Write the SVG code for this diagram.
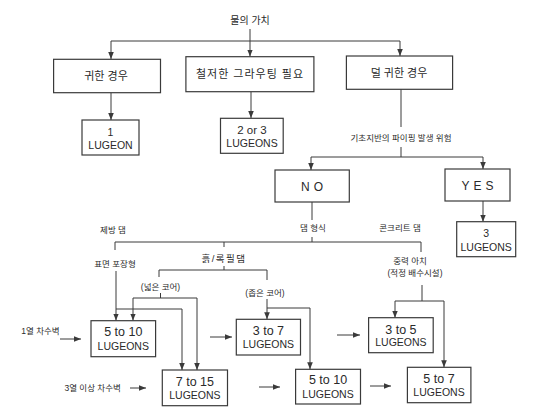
<svg xmlns="http://www.w3.org/2000/svg" width="553" height="418" viewBox="0 0 553 418">
<style>
text{font-family:"Liberation Sans","Noto Sans CJK KR",sans-serif;fill:#2a2a2a;text-anchor:middle}
.box{fill:#fff;stroke:#3a3a3a;stroke-width:1.2}
.lbl{font-size:11px}
.sm{font-size:8.5px}
.num{font-size:12.5px}
.lug{font-size:10.5px}
.yn{font-size:12px;letter-spacing:4px}
.c{fill:none;stroke:#3a3a3a;stroke-width:1}
.a{marker-end:url(#ah)}
</style>
<defs>
<marker id="ah" markerUnits="userSpaceOnUse" markerWidth="8" markerHeight="6" refX="7" refY="2.8" orient="auto">
<path d="M0,0 L7,2.8 L0,5.6 z" fill="#3a3a3a"/>
</marker>
</defs>
<rect width="553" height="418" fill="#fff"/>
<g id="connectors">
<path class="c a" d="M250,29 V56.5"/>
<path class="c" d="M111,41 H400"/>
<path class="c a" d="M111,41 V59"/>
<path class="c a" d="M400,41 V56"/>
<path class="c a" d="M111,93 V120"/>
<path class="c a" d="M251,92 V118"/>
<path class="c" d="M401,89 V127"/>
<path class="c" d="M401,147 V157 M311,157 H483"/>
<path class="c a" d="M311,157 V170"/>
<path class="c a" d="M483,157 V169"/>
<path class="c a" d="M483,201 V221.7"/>
<path class="c" d="M312,202 V220 M312,237 V242"/>
<path class="c" d="M115,242 H421 M115,242 V250 M224,242 V247 M421,242 V252"/>
<path class="c a" d="M116,271 V320.5"/>
<path class="c a" d="M116,309 H182 V370"/>
<path class="c" d="M224,266 V270 M159,270 H267 M159,270 V277 M267,270 V280"/>
<path class="c" d="M160.5,293 V298 M133,298 H197"/>
<path class="c a" d="M133,298 V320.5"/>
<path class="c a" d="M197,298 V370"/>
<path class="c a" d="M267,299 V319.3"/>
<path class="c a" d="M267,308 H310 V369.3"/>
<path class="c" d="M422,285 V301 M395,301 H444"/>
<path class="c a" d="M395,301 V317.7"/>
<path class="c a" d="M444,301 V367.3"/>
<path class="c a" d="M60,339 H81"/>
<path class="c a" d="M210,337 H232"/>
<path class="c a" d="M337,335 H360"/>
<path class="c a" d="M130,388 H146"/>
<path class="c a" d="M259,387 H280"/>
<path class="c a" d="M370,386 H391"/>
</g>
<g id="labels">
<text x="250" y="24" style="font-size:10px">물의 가치</text>
<text class="sm" x="401" y="141">기초지반의 파이핑 발생 위험</text>
<text class="sm" x="113" y="233">제방 댐</text>
<text class="sm" x="313" y="231.3">댐 형식</text>
<text class="sm" x="400" y="231">콘크리트 댐</text>
<text class="sm" x="115" y="267.3">표면 포장형</text>
<text x="224" y="262" style="font-size:9.5px;letter-spacing:1.5px">흙/록필댐</text>
<text class="sm" x="410" y="263.7">중력 아치</text>
<text class="sm" x="415" y="275.7">(적정 배수시설)</text>
<text class="sm" x="160.5" y="290">(넓은 코어)</text>
<text class="sm" x="265" y="295.5">(좁은 코어)</text>
<text class="sm" x="40.5" y="334">1열 차수벽</text>
<text class="sm" x="92.6" y="390.7">3열 이상 차수벽</text>
</g>
<g id="n-precious"><rect class="box" x="53.6" y="59.3" width="106.9" height="33.4"/><text class="lbl" x="106" y="80">귀한 경우</text></g>
<g id="n-grouting"><rect class="box" x="185.9" y="56.7" width="128" height="35"/><text class="lbl" x="250" y="78" style="letter-spacing:1px">철저한 그라우팅 필요</text></g>
<g id="n-less"><rect class="box" x="346.4" y="56" width="106.2" height="33.3"/><text class="lbl" x="399" y="77">덜 귀한 경우</text></g>
<g id="n-1lugeon"><rect class="box" x="82" y="120" width="57" height="35"/><text class="lug" x="110.5" y="135.5">1</text><text class="lug" x="110.5" y="149">LUGEON</text></g>
<g id="n-2or3"><rect class="box" x="220.5" y="118.3" width="62.7" height="35"/><text x="252" y="134" style="font-size:11.5px">2 or 3</text><text class="lug" x="252" y="147">LUGEONS</text></g>
<g id="n-no"><rect class="box" x="275" y="170" width="74.3" height="32"/><text class="yn" x="314" y="190.5">NO</text></g>
<g id="n-yes"><rect class="box" x="445" y="169" width="65" height="32"/><text class="yn" x="479.5" y="189.5">YES</text></g>
<g id="n-3lugeons"><rect class="box" x="456.7" y="221.7" width="59" height="35"/><text class="lug" x="486.2" y="236.5">3</text><text class="lug" x="486.2" y="250.5">LUGEONS</text></g>
<g id="n-5to10a"><rect class="box" x="91" y="320.7" width="64.6" height="36"/><text class="num" x="123.3" y="336">5 to 10</text><text class="lug" x="123.3" y="349.5">LUGEONS</text></g>
<g id="n-3to7"><rect class="box" x="236.3" y="319.3" width="64.2" height="35.7"/><text class="num" x="268.4" y="335">3 to 7</text><text class="lug" x="268.4" y="348">LUGEONS</text></g>
<g id="n-3to5"><rect class="box" x="368.6" y="317.7" width="64.6" height="35"/><text class="num" x="400.9" y="333.5">3 to 5</text><text class="lug" x="400.9" y="346">LUGEONS</text></g>
<g id="n-7to15"><rect class="box" x="162.3" y="370" width="65.2" height="35.7"/><text class="num" x="194.9" y="386">7 to 15</text><text class="lug" x="194.9" y="398.7">LUGEONS</text></g>
<g id="n-5to10b"><rect class="box" x="295.6" y="369.3" width="64.9" height="34.7"/><text class="num" x="328" y="384.3">5 to 10</text><text class="lug" x="328" y="397.7">LUGEONS</text></g>
<g id="n-5to7"><rect class="box" x="407.4" y="367.3" width="63.5" height="35.4"/><text class="num" x="439" y="382.6">5 to 7</text><text class="lug" x="439" y="396.4">LUGEONS</text></g>
</svg>
